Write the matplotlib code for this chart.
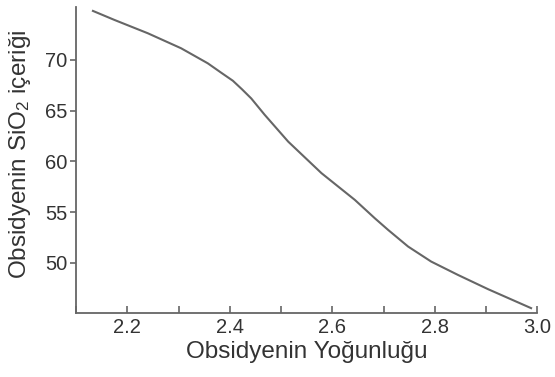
import numpy as np
import matplotlib
matplotlib.use("Agg")
import matplotlib.pyplot as plt
from matplotlib.ticker import MultipleLocator

plt.rcParams["font.family"] = ["Liberation Sans", "DejaVu Sans"]
plt.rcParams["mathtext.fontset"] = "custom"
plt.rcParams["mathtext.rm"] = "Liberation Sans"
plt.rcParams["mathtext.it"] = "Liberation Sans"

# Density vs SiO2 content
density = [2.133, 2.175, 2.240, 2.305, 2.357, 2.383, 2.406, 2.424, 2.442, 2.468, 2.514,
           2.579, 2.644, 2.683, 2.709, 2.748, 2.793, 2.845, 2.904, 2.988]
sio2 = [74.83, 73.94, 72.63, 71.15, 69.67, 68.75, 67.95, 67.1, 66.2, 64.6, 61.95,
        58.84, 56.21, 54.40, 53.25, 51.61, 50.13, 48.82, 47.41, 45.54]

x_ticks = [2.2, 2.4, 2.6, 2.8, 3.0]
x_ticklabels = ["2.2", "2.4", "2.6", "2.8", "3.0"]
y_ticks = [50, 55, 60, 65, 70]

line_col = "#666666"
text_col = "#333333"

fig = plt.figure(figsize=(5.55, 3.77), dpi=100)
ax = fig.add_axes([0.137, 0.170, 0.831, 0.811])

ax.plot(density, sio2, color=line_col, lw=1.5, solid_joinstyle="round")

ax.set_xlim(2.1, 3.0)
ax.set_ylim(45.07, 75.2)
ax.set_xticks(x_ticks)
ax.set_xticklabels(x_ticklabels)
ax.xaxis.set_minor_locator(MultipleLocator(0.1))
ax.set_yticks(y_ticks)

for s in ["top", "right"]:
    ax.spines[s].set_visible(False)
for s in ["left", "bottom"]:
    ax.spines[s].set_color(line_col)
    ax.spines[s].set_linewidth(1.3)

ax.tick_params(axis="x", which="both", direction="in", length=5, width=1.2,
               color=line_col, labelsize=14.5, labelcolor=text_col, pad=3.5)
ax.tick_params(axis="y", direction="out", length=4, width=1.2,
               color=line_col, labelsize=14.5, labelcolor=text_col, pad=2)

ax.set_xlabel("Obsidyenin Yoğunluğu", fontsize=17.5, color=text_col, labelpad=3)
ax.set_ylabel(r"Obsidyenin SiO$_2$ içeriği", fontsize=17.5, color=text_col)
ax.yaxis.set_label_coords(-0.093, 0.52)

fig.savefig("out.png", dpi=100)
